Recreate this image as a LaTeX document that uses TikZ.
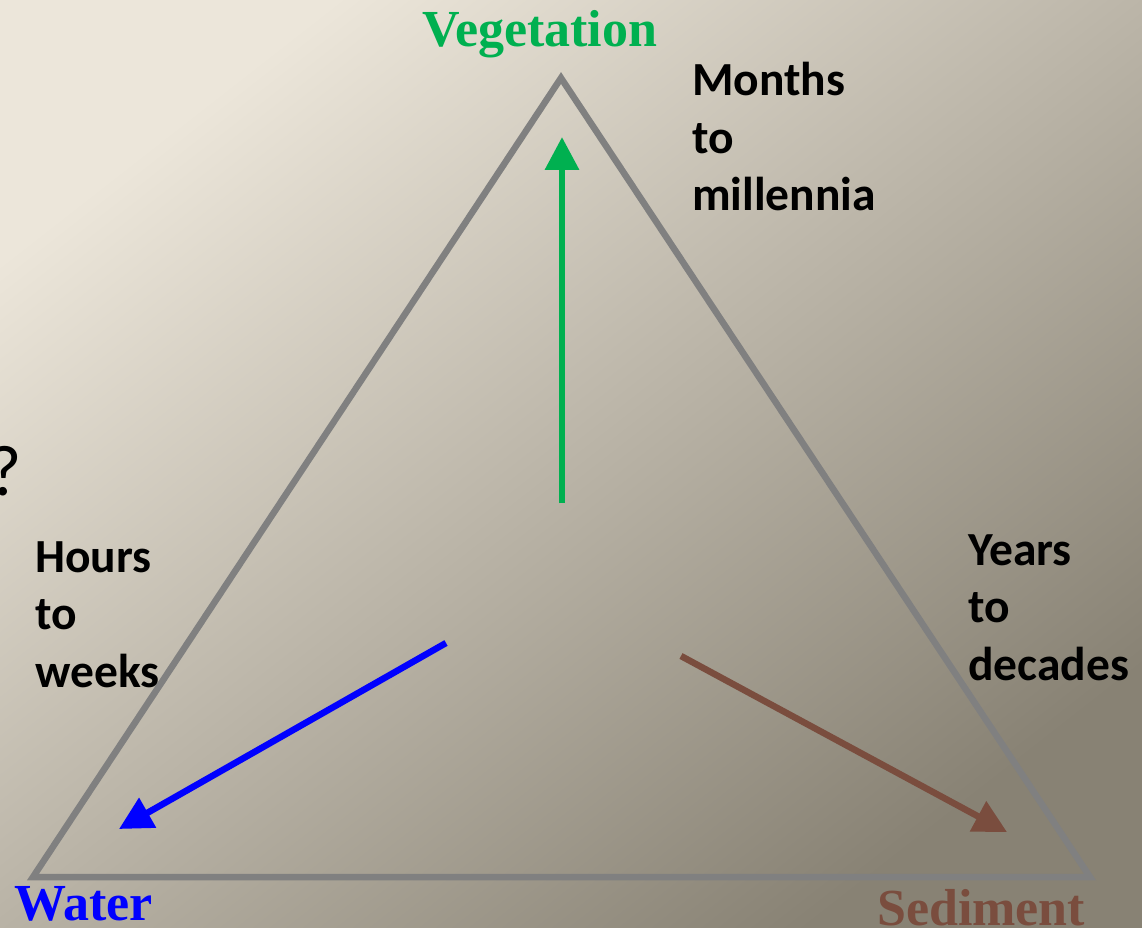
\documentclass[tikz,border=0pt]{standalone}
\usepackage{fontspec}
\setmainfont{Carlito}
\newfontfamily\serifb{Liberation Serif}
\usetikzlibrary{arrows.meta}
\definecolor{veg}{RGB}{0,176,80}
\definecolor{wat}{RGB}{0,0,255}
\definecolor{sed}{RGB}{122,77,62}
\definecolor{tri}{RGB}{128,128,128}
\definecolor{bgA}{RGB}{236,230,218}
\definecolor{bgB}{RGB}{190,183,170}
\definecolor{bgC}{RGB}{136,130,116}
\tikzset{
  corner/.style={font=\serifb\bfseries\fontsize{52}{56}\selectfont, inner sep=0pt, anchor=base west},
  scale label/.style={font=\bfseries\fontsize{47.5}{57.5}\selectfont, inner sep=0pt, anchor=base west, align=left},
  flow/.style={line width=6.5pt, -{Triangle[length=33pt,width=33pt]}},
  edge/.style={draw=tri, line width=6.5pt, line join=miter}
}
\begin{document}
\begin{tikzpicture}[x=1pt,y=-1pt]
\useasboundingbox (0,0) rectangle (1142,928);
\clip (0,0) rectangle (1142,928);
\shade[shading=axis, top color=bgA, middle color=bgB, bottom color=bgC, shading angle=38] (0,0) rectangle (1142,928);
% triangle
\coordinate (apex) at (561,78);
\coordinate (bl) at (33,877);
\coordinate (br) at (1090,877);
\draw[edge] (apex) -- (bl) -- (br) -- cycle;
% arrows
\coordinate (gs) at (562,503);
\coordinate (gt) at (562,137);
\draw[flow, draw=veg, fill=veg] (gs) -- (gt);
\coordinate (bs) at (446,643);
\coordinate (bt) at (119,829);
\draw[flow, draw=wat, fill=wat] (bs) -- (bt);
\coordinate (ss) at (681,656);
\coordinate (st) at (1007,832);
\draw[flow, draw=sed, fill=sed] (ss) -- (st);
% corner labels
\node[corner, text=veg] (vlab) at (422,47) {Vegetation};
\node[corner, text=wat] (wlab) at (14,920) {Water};
\node[corner, text=sed] (slab) at (877,925) {Sediment};
% time scale labels (anchored at the baseline of the last line)
\node[scale label] (months) at (692,211) {Months\\to\\millennia};
\node[scale label] (hours) at (35,687) {Hours\\to\\weeks};
\node[scale label] (years) at (968,680) {Years\\to\\decades};
% cut-off question mark
\node[font=\fontsize{72}{80}\selectfont, inner sep=0pt, anchor=base east] (q) at (22,495) {?};
\end{tikzpicture}
\end{document}
